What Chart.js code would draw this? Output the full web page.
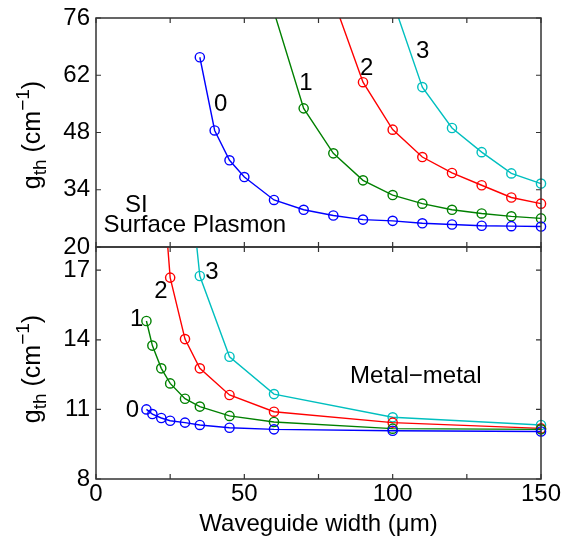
<!DOCTYPE html>
<html><head><meta charset="utf-8">
<script src="https://cdn.jsdelivr.net/npm/chart.js@4.4.1/dist/chart.umd.min.js"></script>
<style>
html,body{margin:0;padding:0;background:#fff;}
#wrap{position:relative;width:570px;height:541px;overflow:hidden;}
canvas{position:absolute;left:0;top:0;}
</style></head><body>
<div id="wrap"><canvas id="cTop" width="570" height="541"></canvas><canvas id="cBot" width="570" height="541"></canvas></div>
<script>
// ---------- data ----------
const MODES = ['0', '1', '2', '3'];
const COLORS = ['#0000ff', '#008000', '#ff0000', '#00bfbf'];

// SI surface plasmon (top panel)
const SP_X0 = [35, 40, 45, 50, 60, 70, 80, 90, 100, 110, 120, 130, 140, 150];
const SP_Y0 = [66.4, 48.5, 41.2, 37.1, 31.5, 29.1, 27.7, 26.7, 26.4, 25.8, 25.5, 25.2, 25.1, 25.0];
const SP_X1 = [60, 70, 80, 90, 100, 110, 120, 130, 140, 150];
const SP_Y1 = [77.5, 53.9, 42.9, 36.3, 32.7, 30.6, 29.1, 28.2, 27.5, 27.0];
const SP_X2 = [80, 90, 100, 110, 120, 130, 140, 150];
const SP_Y2 = [80.5, 60.3, 48.7, 42.0, 38.1, 35.1, 32.1, 30.6];
const SP_X3 = [100, 110, 120, 130, 140, 150];
const SP_Y3 = [80.2, 59.1, 49.1, 43.2, 38.0, 35.5];

// Metal-metal (bottom panel)
const MM_X0 = [17, 19, 22, 25, 30, 35, 45, 60, 100, 150];
const MM_Y0 = [11.0, 10.8, 10.63, 10.51, 10.43, 10.33, 10.21, 10.14, 10.08, 10.05];
const MM_X1 = [17, 19, 22, 25, 30, 35, 45, 60, 100, 150];
const MM_Y1 = [14.81, 13.75, 12.77, 12.12, 11.46, 11.12, 10.72, 10.46, 10.17, 10.14];
const MM_X2 = [22, 25, 30, 35, 45, 60, 100, 150];
const MM_Y2 = [21.6, 16.68, 14.03, 12.77, 11.62, 10.9, 10.43, 10.18];
const MM_X3 = [30, 35, 45, 60, 100, 150];
const MM_Y3 = [22.9, 16.75, 13.27, 11.66, 10.66, 10.33];

// ticks
const X_TICKS = [0, 25, 50, 75, 100, 125, 150];
const X_LABELED = [0, 50, 100, 150];
const SP_Y_TICKS = [20, 34, 48, 62, 76];
const MM_Y_TICKS = [8, 11, 14, 17];

// texts
const X_TITLE = 'Waveguide width (\u03bcm)';
const SP_NOTES = [
  {t: '0', x: 42.0, y: 54.9, a: 'center'},
  {t: '1', x: 70.8, y: 60.0, a: 'center'},
  {t: '2', x: 91.2, y: 63.7, a: 'center'},
  {t: '3', x: 110.1, y: 67.9, a: 'center'},
  {t: 'SI', x: 9.8, y: 30.2, a: 'left'},
  {t: 'Surface Plasmon', x: 2.5, y: 25.2, a: 'left'}
];
const MM_NOTES = [
  {t: '0', x: 12.3, y: 10.95, a: 'center'},
  {t: '1', x: 13.7, y: 14.9, a: 'center'},
  {t: '2', x: 21.9, y: 16.1, a: 'center'},
  {t: '3', x: 39.1, y: 16.9, a: 'center'},
  {t: 'Metal\u2212metal', x: 107.8, y: 12.42, a: 'center'}
];

// ---------- drawing ----------
const FONT = "'Liberation Sans', Arial, Helvetica, sans-serif";
Chart.defaults.font.family = FONT;
Chart.defaults.font.size = 24;
Chart.defaults.color = '#000';

function makeSets(xs, ys) {
  return xs.map((xArr, i) => ({
    label: MODES[i],
    data: xArr.map((x, j) => ({x: x, y: ys[i][j]})),
    borderColor: COLORS[i],
    backgroundColor: 'rgba(0,0,0,0)',
    pointBackgroundColor: 'rgba(0,0,0,0)',
    pointBorderColor: COLORS[i],
    pointRadius: 4.6,
    pointBorderWidth: 1.4,
    borderWidth: 1.4,
    tension: 0,
    clip: {left: 10, right: 10, top: 0, bottom: 10}
  }));
}

function yTitle(ctx, cx, cy) {
  const big = '25px ' + FONT, small = '19px ' + FONT;
  const parts = [
    {t: 'g', f: big, dy: 0},
    {t: 'th', f: small, dy: 6},
    {t: ' (cm', f: big, dy: 0},
    {t: '\u22121', f: small, dy: -11},
    {t: ')', f: big, dy: 0}
  ];
  ctx.save();
  ctx.translate(cx, cy);
  ctx.rotate(-Math.PI / 2);
  ctx.fillStyle = '#000';
  ctx.textBaseline = 'alphabetic';
  ctx.textAlign = 'left';
  let total = 0;
  parts.forEach(p => { ctx.font = p.f; p.w = ctx.measureText(p.t).width; total += p.w; });
  let x = -total / 2;
  parts.forEach(p => { ctx.font = p.f; ctx.fillText(p.t, x, 8 + p.dy); x += p.w; });
  ctx.restore();
}

function framePlugin(yTicks, notes, titleY) {
  return {
    id: 'frame',
    afterDatasetsDraw(chart) {
      const ctx = chart.ctx, a = chart.chartArea;
      const xs = chart.scales.x, ys = chart.scales.y;
      ctx.save();
      ctx.strokeStyle = '#333';
      ctx.lineWidth = 1.5;
      ctx.strokeRect(a.left, a.top, a.right - a.left, a.bottom - a.top);
      ctx.lineWidth = 1.2;
      ctx.beginPath();
      const L = 5;
      X_TICKS.forEach(v => {
        const px = xs.getPixelForValue(v);
        ctx.moveTo(px, a.top); ctx.lineTo(px, a.top + L);
        ctx.moveTo(px, a.bottom); ctx.lineTo(px, a.bottom - L);
      });
      yTicks.forEach(v => {
        const py = ys.getPixelForValue(v);
        ctx.moveTo(a.left, py); ctx.lineTo(a.left + L, py);
        ctx.moveTo(a.right, py); ctx.lineTo(a.right - L, py);
      });
      ctx.stroke();
      ctx.fillStyle = '#000';
      ctx.font = '24px ' + FONT;
      ctx.textBaseline = 'middle';
      notes.forEach(n => {
        ctx.textAlign = n.a;
        ctx.fillText(n.t, xs.getPixelForValue(n.x), ys.getPixelForValue(n.y));
      });
      ctx.restore();
      yTitle(ctx, 32, titleY);
    }
  };
}

const yTickOpts = {padding: 6, color: '#000', font: {size: 24, lineHeight: 1}};

new Chart(document.getElementById('cTop'), {
  type: 'line',
  data: {datasets: makeSets([SP_X0, SP_X1, SP_X2, SP_X3], [SP_Y0, SP_Y1, SP_Y2, SP_Y3])},
  options: {
    responsive: false, animation: false, devicePixelRatio: 1,
    layout: {padding: {left: 0, right: 29, top: 14, bottom: 294}},
    plugins: {legend: {display: false}, tooltip: {enabled: false}},
    scales: {
      x: {type: 'linear', min: 0, max: 150, display: false},
      y: {
        type: 'linear', min: 20, max: 76,
        afterFit(s) { s.width = 96; },
        afterBuildTicks(s) { s.ticks = SP_Y_TICKS.map(v => ({value: v})); },
        grid: {display: false, drawTicks: false},
        border: {display: false},
        ticks: yTickOpts
      }
    }
  },
  plugins: [framePlugin(SP_Y_TICKS, SP_NOTES, 135)]
});

new Chart(document.getElementById('cBot'), {
  type: 'line',
  data: {datasets: makeSets([MM_X0, MM_X1, MM_X2, MM_X3], [MM_Y0, MM_Y1, MM_Y2, MM_Y3])},
  options: {
    responsive: false, animation: false, devicePixelRatio: 1,
    layout: {padding: {left: 0, right: 29, top: 247, bottom: 0}},
    plugins: {legend: {display: false}, tooltip: {enabled: false}},
    scales: {
      x: {
        type: 'linear', min: 0, max: 150,
        afterFit(s) { s.height = 62; },
        afterBuildTicks(s) { s.ticks = X_TICKS.map(v => ({value: v})); },
        grid: {display: false, drawTicks: false},
        border: {display: false},
        ticks: {
          padding: 3, color: '#000', maxRotation: 0, autoSkip: false,
          font: {size: 24, lineHeight: 1},
          callback: v => X_LABELED.includes(v) ? String(v) : ''
        },
        title: {display: true, text: X_TITLE, color: '#000', font: {size: 24, lineHeight: 1}, padding: {top: 0, bottom: 5}}
      },
      y: {
        type: 'linear', min: 8, max: 18,
        afterFit(s) { s.width = 96; },
        afterBuildTicks(s) { s.ticks = MM_Y_TICKS.map(v => ({value: v})); },
        grid: {display: false, drawTicks: false},
        border: {display: false},
        ticks: yTickOpts
      }
    }
  },
  plugins: [framePlugin(MM_Y_TICKS, MM_NOTES, 369)]
});
</script>
</body></html>
